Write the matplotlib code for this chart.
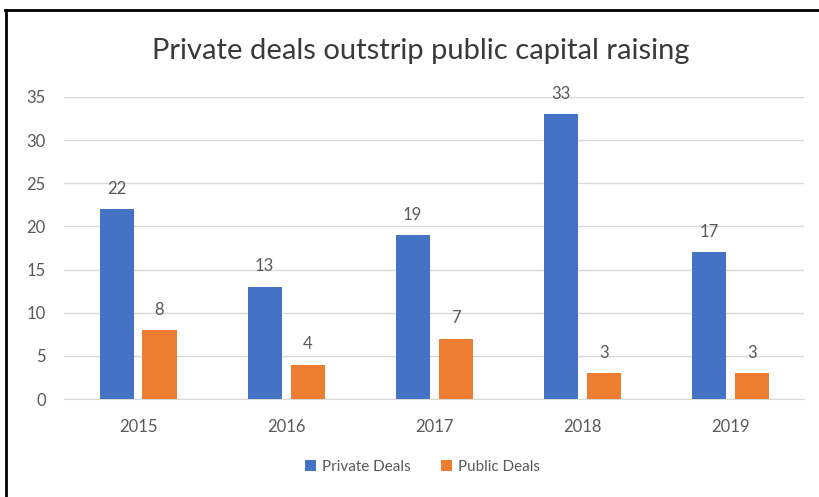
import matplotlib.pyplot as plt
from matplotlib.lines import Line2D
import numpy as np

years = ["2015", "2016", "2017", "2018", "2019"]
private_deals = [22, 13, 19, 33, 17]
public_deals = [8, 4, 7, 3, 3]

blue = "#4472C4"
orange = "#ED7D31"
text_grey = "#595959"

plt.rcParams["font.family"] = ["Lato", "DejaVu Sans"]

fig = plt.figure(figsize=(8.2, 4.97), dpi=100)
ax = fig.add_axes([0.078, 0.197, 0.903, 0.608])

x = np.arange(len(years))
width = 0.23
offset = 0.145

bars_priv = ax.bar(x - offset, private_deals, width, color=blue, label="Private Deals", zorder=3)
bars_pub = ax.bar(x + offset, public_deals, width, color=orange, label="Public Deals", zorder=3)

for bars in (bars_priv, bars_pub):
    ax.bar_label(bars, padding=9, fontsize=12, color=text_grey)

ax.set_xlim(-0.5, len(years) - 0.5)
ax.set_ylim(0, 35)
ax.set_yticks(range(0, 36, 5))
ax.set_xticks(x)
ax.set_xticklabels(years)
ax.tick_params(axis="both", length=0, labelsize=12, labelcolor=text_grey)
ax.tick_params(axis="x", pad=14)
ax.tick_params(axis="y", pad=13)

ax.grid(axis="y", color="#D9D9D9", linewidth=1, zorder=0)
for side in ("top", "right", "left"):
    ax.spines[side].set_visible(False)
ax.spines["bottom"].set_color("#D9D9D9")

fig.text(0.513, 0.897, "Private deals outstrip public capital raising",
         ha="center", va="center", fontsize=21, color="#3a3a3a")

fig.legend(loc="center", bbox_to_anchor=(0.515, 0.06), ncol=2, frameon=False,
           fontsize=11, labelcolor=text_grey, handlelength=0.7, handleheight=0.7,
           columnspacing=2.0, handletextpad=0.4)

# frame lines along the left and top edges
fig.add_artist(Line2D([0.007, 0.007], [0, 0.98], color="black", linewidth=2,
                      transform=fig.transFigure))
fig.add_artist(Line2D([0.006, 1.0], [0.98, 0.98], color="black", linewidth=2,
                      transform=fig.transFigure))

fig.savefig("out.png", dpi=100, facecolor="white")
